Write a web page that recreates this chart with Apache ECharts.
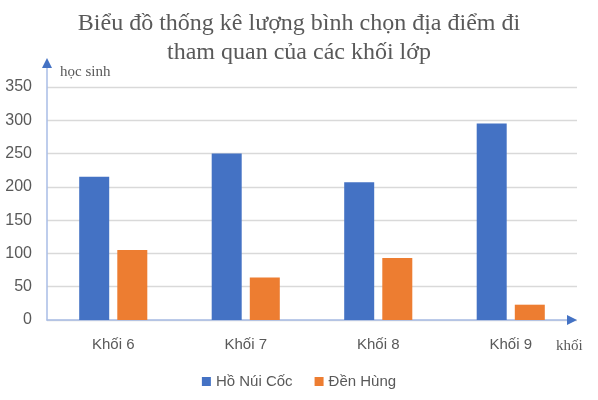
<!DOCTYPE html>
<html lang="vi">
<head>
  <meta charset="utf-8">
  <script src="https://cdn.jsdelivr.net/npm/echarts@6/dist/echarts.min.js"></script>
</head>
<body style="margin: 0">
  <div id="container" style="width: 598px; height: 400px"></div>
  <script type="text/javascript">
    // data
    var khoi = ['Khối 6', 'Khối 7', 'Khối 8', 'Khối 9'];
    var hoNuiCoc = [215, 250, 207, 295];
    var denHung = [105, 64, 93, 23];
    var seriesNames = ['Hồ Núi Cốc', 'Đền Hùng'];

    var grey = '#595959';
    var lightBlue = '#a9bde6';
    var arrowBlue = '#4472C4';

    var myChart = echarts.init(document.getElementById('container'), null, { renderer: 'canvas' });

    // tiny helper axes just to draw arrow heads in a darker blue
    var hidden = { type: 'value', min: 0, max: 1, show: false };
    var arrowAxis = {
      type: 'value', min: 0, max: 1,
      axisLine: { show: true, symbol: ['none', 'triangle'], symbolSize: [10, 10], lineStyle: { color: arrowBlue } },
      axisTick: { show: false }, axisLabel: { show: false }, splitLine: { show: false }
    };
    var lightAxis = {
      type: 'value', min: 0, max: 1,
      axisLine: { show: true, lineStyle: { color: lightBlue, width: 1.5 } },
      axisTick: { show: false }, axisLabel: { show: false }, splitLine: { show: false }
    };

    myChart.setOption({
      animation: false,
      title: {
        text: 'Biểu đồ thống kê lượng bình chọn địa điểm đi\ntham quan của các khối lớp',
        left: 'center',
        top: 4,
        textStyle: {
          fontFamily: 'Liberation Serif',
          fontSize: 24,
          fontWeight: 'normal',
          color: grey,
          lineHeight: 29
        }
      },
      legend: {
        data: seriesNames,
        bottom: 6,
        left: 'center',
        icon: 'rect',
        itemWidth: 9,
        itemHeight: 9,
        itemGap: 22,
        textStyle: { fontFamily: 'Liberation Sans', fontSize: 15, color: grey }
      },
      grid: [
        { left: 47, right: 21, top: 87, bottom: 80 },   // data
        { left: 47, right: 26, top: 63, bottom: 80 },   // light axis lines
        { left: 47, top: 63, width: 1, height: 1 },      // y arrow
        { left: 571, width: 1, bottom: 80, height: 1 }   // x arrow
      ],
      xAxis: [
        {
          gridIndex: 0,
          type: 'category',
          data: khoi,
          name: 'khối',
          nameLocation: 'end',
          nameGap: -21,
          nameTextStyle: {
            fontFamily: 'Liberation Serif', fontSize: 15, color: grey,
            align: 'left', verticalAlign: 'top', padding: [19, 0, 0, 0]
          },
          axisLine: { show: false },
          axisTick: { show: false },
          axisLabel: { margin: 17, fontFamily: 'Liberation Sans', fontSize: 15, color: grey }
        },
        Object.assign({ gridIndex: 1 }, lightAxis),
        Object.assign({ gridIndex: 2 }, hidden),
        Object.assign({ gridIndex: 3 }, arrowAxis)
      ],
      yAxis: [
        {
          gridIndex: 0,
          type: 'value',
          min: 0,
          max: 350,
          interval: 50,
          name: 'học sinh',
          nameLocation: 'end',
          nameGap: 15,
          nameTextStyle: {
            fontFamily: 'Liberation Serif', fontSize: 15, color: grey,
            align: 'left', verticalAlign: 'middle', padding: [0, 0, 0, 13]
          },
          axisLine: { show: false },
          axisTick: { show: false },
          axisLabel: { margin: 15, fontFamily: 'Liberation Sans', fontSize: 16, color: grey },
          splitLine: { lineStyle: { color: '#d9d9d9', width: 1.3 } }
        },
        Object.assign({ gridIndex: 1 }, lightAxis),
        Object.assign({ gridIndex: 2 }, arrowAxis),
        Object.assign({ gridIndex: 3 }, hidden)
      ],
      series: [
        {
          name: seriesNames[0],
          type: 'bar',
          data: hoNuiCoc,
          barWidth: 30,
          barGap: '27%',
          itemStyle: { color: '#4472C4' },
          z: 3
        },
        {
          name: seriesNames[1],
          type: 'bar',
          data: denHung,
          barWidth: 30,
          barGap: '27%',
          itemStyle: { color: '#ED7D31' },
          z: 3
        }
      ]
    });

    window.addEventListener('resize', myChart.resize);
  </script>
</body>
</html>
